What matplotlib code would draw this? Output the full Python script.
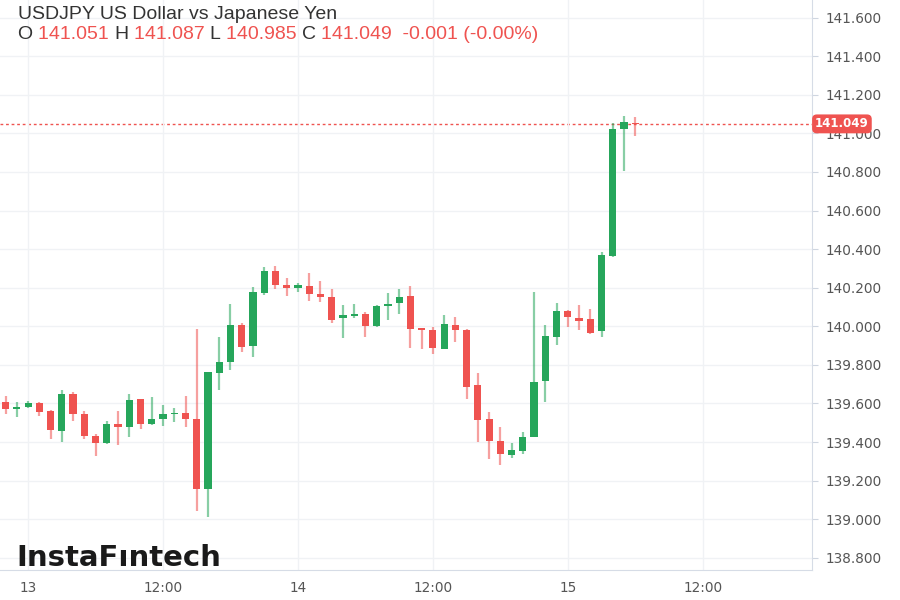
import numpy as np
import matplotlib.pyplot as plt
from matplotlib.patches import Rectangle

# hourly candles, hour 0 = midnight of the 13th
hours = list(range(-2, 55))
opens = [139.606, 139.570, 139.583, 139.601, 139.561, 139.458, 139.649, 139.544, 139.433, 139.394,
         139.494, 139.477, 139.623, 139.492, 139.520, 139.544, 139.549, 139.518, 139.155, 139.760,
         139.815, 140.007, 139.898, 140.174, 140.288, 140.214, 140.200, 140.210, 140.166, 140.150,
         140.041, 140.054, 140.062, 140.000, 140.107, 140.119, 140.157, 139.989, 139.980, 139.882,
         140.007, 139.980, 139.696, 139.518, 139.407, 139.333, 139.355, 139.428, 139.717, 139.943,
         140.079, 140.044, 140.036, 139.975, 140.366, 141.021, 141.051]
highs = [139.639, 139.606, 139.613, 139.606, 139.566, 139.670, 139.661, 139.563, 139.440, 139.511,
         139.563, 139.649, 139.623, 139.635, 139.592, 139.575, 139.639, 139.986, 139.762, 139.943,
         140.116, 140.016, 140.202, 140.306, 140.312, 140.249, 140.223, 140.278, 140.235, 140.192,
         140.110, 140.114, 140.076, 140.110, 140.171, 140.192, 140.210, 139.992, 139.998, 140.059,
         140.050, 139.985, 139.756, 139.558, 139.480, 139.397, 139.454, 140.179, 140.007, 140.119,
         140.082, 140.110, 140.088, 140.387, 141.052, 141.090, 141.087]
lows = [139.546, 139.532, 139.578, 139.537, 139.416, 139.402, 139.511, 139.414, 139.328, 139.390,
        139.385, 139.428, 139.466, 139.489, 139.483, 139.503, 139.480, 139.043, 139.010, 139.670,
        139.774, 139.868, 139.842, 140.162, 140.192, 140.158, 140.179, 140.133, 140.127, 140.016,
        139.938, 140.041, 139.943, 139.997, 140.033, 140.064, 139.886, 139.881, 139.856, 139.880,
        139.920, 139.623, 139.399, 139.312, 139.281, 139.319, 139.337, 139.425, 139.609, 139.903,
        139.998, 139.981, 139.959, 139.943, 140.360, 140.806, 140.985]
closes = [139.572, 139.583, 139.604, 139.558, 139.463, 139.648, 139.544, 139.433, 139.397, 139.494,
          139.477, 139.618, 139.492, 139.518, 139.544, 139.552, 139.518, 139.155, 139.762, 139.817,
          140.007, 139.894, 140.176, 140.288, 140.214, 140.200, 140.214, 140.166, 140.153, 140.034,
          140.059, 140.062, 140.003, 140.107, 140.115, 140.153, 139.985, 139.980, 139.886, 140.012,
          139.980, 139.687, 139.515, 139.406, 139.337, 139.359, 139.428, 139.713, 139.950, 140.079,
          140.050, 140.029, 139.967, 140.367, 141.021, 141.060, 141.049]

tick_hours = [0, 12, 24, 36, 48, 60]
tick_labels = ["13", "12:00", "14", "12:00", "15", "12:00"]
last_price = 141.049

up_col = "#26a65b"
down_col = "#ef5350"

fig = plt.figure(figsize=(9, 6), dpi=100)
ax = fig.add_axes([0, 0.05, 0.902, 0.95])

for h, o, hi, lo, c in zip(hours, opens, highs, lows, closes):
    col = up_col if c >= o else down_col
    ax.vlines(h, lo, hi, color=col, lw=1.6, alpha=0.55, zorder=2)
    bottom = min(o, c)
    height = max(abs(c - o), 0.006)
    ax.add_patch(Rectangle((h - 0.32, bottom), 0.64, height, color=col, lw=0, zorder=3))

# last price line
ax.axhline(last_price, color=down_col, lw=1, ls=(0, (2, 2)), zorder=1)

ax.set_xlim(-2.5, 69.7)
ax.set_ylim(138.737, 141.691)
yt = np.arange(138.8, 141.61, 0.2)
ax.set_yticks(yt)
ax.set_yticklabels(["%.3f" % v for v in yt])
ax.set_xticks(tick_hours)
ax.set_xticklabels(tick_labels)
ax.yaxis.tick_right()
ax.tick_params(axis="y", colors="#cfd6e0", labelcolor="#555555", labelsize=9.8, length=4, pad=6)
ax.tick_params(axis="x", colors="#cfd6e0", labelcolor="#555555", labelsize=9.8, length=0, pad=8)

ax.grid(True, color="#f0f2f5", lw=1, zorder=0)
for s in ["top", "left"]:
    ax.spines[s].set_visible(False)
ax.spines["right"].set_color("#d6dce6")
ax.spines["bottom"].set_color("#d6dce6")

# price tag on axis
ax.text(1.004, last_price, "%.3f" % last_price, transform=ax.get_yaxis_transform(),
        color="white", fontsize=8.5, fontweight="bold", va="center", ha="left", zorder=5,
        bbox=dict(boxstyle="round,pad=0.25,rounding_size=0.4", fc=down_col, ec="none"),
        clip_on=False)

# header
hdr = dict(fontsize=14, family="Liberation Sans", va="center")
fig.text(0.02, 0.976, "USDJPY US Dollar vs Japanese Yen", color="#333333", **hdr)
parts = [("O ", "#333333"), ("141.051 ", down_col), ("H ", "#333333"), ("141.087 ", down_col),
         ("L ", "#333333"), ("140.985 ", down_col), ("C ", "#333333"), ("141.049  -0.001 (-0.00%)", down_col)]
x = 0.02
r = fig.canvas.get_renderer()
for txt, col in parts:
    t = fig.text(x, 0.943, txt, color=col, **hdr)
    bb = t.get_window_extent(renderer=r)
    x += bb.width / fig.bbox.width

# watermark
fig.text(0.018, 0.07, "InstaFıntech", fontsize=21, family="DejaVu Sans", fontweight="bold",
         color="#1a1a1a", va="center")

fig.savefig("out.png", dpi=100)
